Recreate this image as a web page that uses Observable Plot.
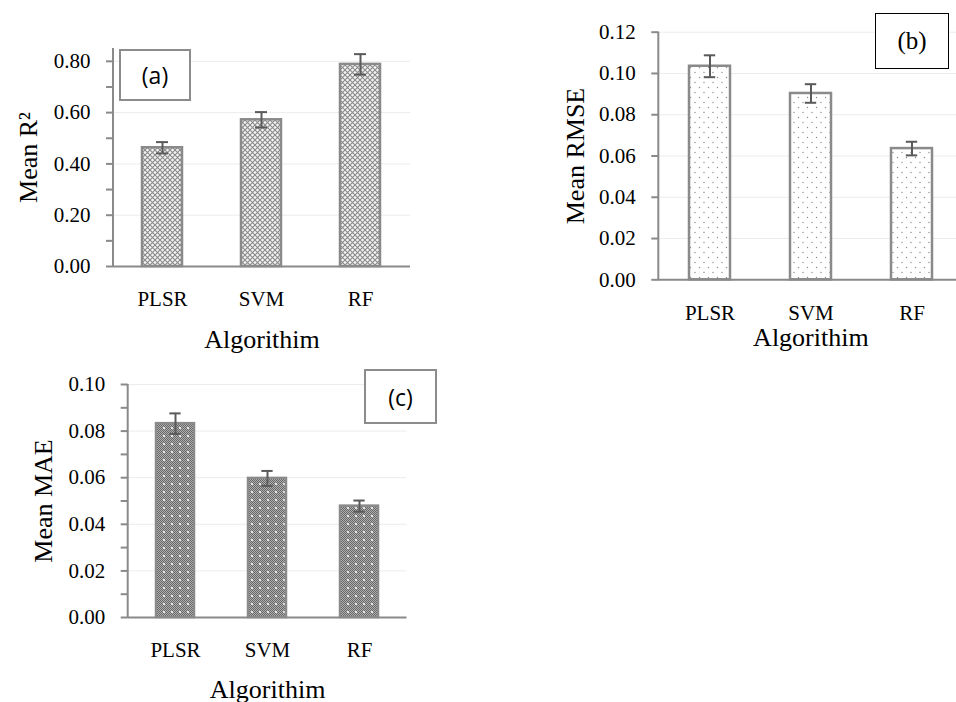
<!DOCTYPE html>
<html>
<head>
<meta charset="utf-8">
<script src="https://cdn.jsdelivr.net/npm/d3@7"></script>
<script src="https://cdn.jsdelivr.net/npm/@observablehq/plot@0.6"></script>
<style>
  html, body { margin: 0; padding: 0; background: #fff; }
  #wrap { position: relative; width: 956px; height: 702px; overflow: hidden; background: #fff; }
  .panel { position: absolute; }
  .tag { position: absolute; box-sizing: border-box; display: flex; align-items: center; justify-content: center; background: #fff; }
</style>
</head>
<body>
<div id="wrap"></div>
<script>
// ---- data ----
const algorithms = ["PLSR", "SVM", "RF"];

const r2Mean = [0.463, 0.572, 0.788];
const r2Err = [0.022, 0.030, 0.040];

const rmseMean = [0.1035, 0.0903, 0.0636];
const rmseErr = [0.0053, 0.0045, 0.0033];

const maeMean = [0.0832, 0.0597, 0.0478];
const maeErr = [0.0044, 0.0032, 0.0024];

const r2Ticks = [0, 0.1, 0.2, 0.3, 0.4, 0.5, 0.6, 0.7, 0.8];
const r2Labels = [0, 0.2, 0.4, 0.6, 0.8];
const rmseTicks = [0, 0.02, 0.04, 0.06, 0.08, 0.10, 0.12];
const rmseLabels = [0, 0.02, 0.04, 0.06, 0.08, 0.10, 0.12];
const maeTicks = [0, 0.01, 0.02, 0.03, 0.04, 0.05, 0.06, 0.07, 0.08, 0.09, 0.10];
const maeLabels = [0, 0.02, 0.04, 0.06, 0.08, 0.10];

const xTitle = "Algorithim";
const panelTags = ["(a)", "(b)", "(c)"];
const yTitles = ["Mean R²", "Mean RMSE", "Mean MAE"];

// ---- helpers ----
const wrap = document.getElementById("wrap");
const SERIF = "'Liberation Serif', 'Times New Roman', serif";
const SANS = "'Open Sans', 'Liberation Sans', sans-serif";

function addPattern(svg, id, kind) {
  const defs = d3.select(svg).insert("defs", ":first-child");
  if (kind === "cross") {
    const p = defs.append("pattern").attr("id", id).attr("patternUnits", "userSpaceOnUse")
      .attr("width", 5).attr("height", 5);
    p.append("rect").attr("width", 5).attr("height", 5).attr("fill", "#f4f4f4");
    p.append("path").attr("d", "M0,0L5,5M5,0L0,5").attr("stroke", "#8a8a8a").attr("stroke-width", 1.1);
  } else if (kind === "dots") {
    const p = defs.append("pattern").attr("id", id).attr("patternUnits", "userSpaceOnUse")
      .attr("width", 9).attr("height", 10);
    p.append("rect").attr("width", 9).attr("height", 10).attr("fill", "#ffffff");
    p.append("circle").attr("cx", 2).attr("cy", 2.5).attr("r", 0.7).attr("fill", "#8a8a8a");
    p.append("circle").attr("cx", 6.5).attr("cy", 7.5).attr("r", 0.7).attr("fill", "#8a8a8a");
  } else {
    const p = defs.append("pattern").attr("id", id).attr("patternUnits", "userSpaceOnUse")
      .attr("width", 8).attr("height", 8);
    p.append("rect").attr("width", 8).attr("height", 8).attr("fill", "#b0b0b0");
    for (let i = 0; i < 8; i++) for (let j = 0; j < 8; j++) {
      if ((i + j) % 2 === 0) p.append("rect").attr("x", i).attr("y", j).attr("width", 1).attr("height", 1).attr("fill", "#666666");
    }
    p.append("circle").attr("cx", 4).attr("cy", 4).attr("r", 1).attr("fill", "#ffffff");
  }
}

const charts = [];
function makePanel(cfg) {
  const rows = algorithms.map((a, i) => ({algo: a, mean: cfg.means[i], lo: cfg.means[i] - cfg.errs[i], hi: cfg.means[i] + cfg.errs[i]}));
  const capInset = (cfg.bandwidth - 12) / 2;
  const chart = Plot.plot({
    width: cfg.width,
    height: cfg.height,
    marginLeft: cfg.marginLeft,
    marginRight: cfg.marginRight,
    marginTop: cfg.marginTop,
    marginBottom: cfg.marginBottom,
    style: {fontFamily: SERIF, fontSize: "21px", color: "#000", background: "transparent", overflow: "visible"},
    x: {domain: algorithms, paddingInner: cfg.padInner, paddingOuter: cfg.padInner / 2},
    y: {domain: cfg.yDomain},
    marks: [
      Plot.gridY(cfg.labels, {stroke: "#ececec", strokeOpacity: 1, strokeWidth: 1}),
      Plot.barY(rows, {x: "algo", y: "mean", fill: `url(#${cfg.patternId})`, stroke: "#8a8a8a", strokeWidth: 2.5}),
      Plot.ruleX(rows, {x: "algo", y1: "lo", y2: "hi", stroke: "#5a5a5a", strokeWidth: 2}),
      Plot.tickY(rows, {x: "algo", y: "lo", stroke: "#5a5a5a", strokeWidth: 2, insetLeft: capInset, insetRight: capInset}),
      Plot.tickY(rows, {x: "algo", y: "hi", stroke: "#5a5a5a", strokeWidth: 2, insetLeft: capInset, insetRight: capInset}),
      Plot.ruleY([0], {stroke: "#8a8a8a", strokeWidth: 2}),
      // tick marks only (gray)
      Plot.axisY({ticks: cfg.ticks, tickSize: 7, stroke: "#8a8a8a", strokeWidth: 2, tickFormat: () => "", label: null}),
      // tick labels only (black)
      Plot.axisY({ticks: cfg.labels, tickSize: 0, tickPadding: 23, tickFormat: d => d.toFixed(2), label: null,
        fontSize: 21, fontFamily: SERIF}),
      Plot.axisX({tickSize: 0, tickPadding: 25, label: null, fontSize: 21, fontFamily: SERIF}),
      Plot.text([cfg.yTitle], {frameAnchor: "left", dx: -cfg.yTitleOffset, rotate: -90, lineAnchor: "top", textAnchor: "middle", fontSize: 26, fontFamily: SERIF}),
      Plot.text([xTitle], {frameAnchor: "bottom", dy: cfg.xTitleOffset, lineAnchor: "bottom", textAnchor: "middle", fontSize: 26, fontFamily: SERIF})
    ]
  });
  addPattern(chart, cfg.patternId, cfg.patternKind);
  // vertical y-axis line along the frame's left edge, from the y scale range
  const yr = chart.scale("y").range;
  d3.select(chart).append("line")
    .attr("x1", cfg.marginLeft).attr("x2", cfg.marginLeft)
    .attr("y1", Math.min(...yr)).attr("y2", Math.max(...yr) + 1)
    .attr("stroke", "#8a8a8a").attr("stroke-width", 2);
  chart.classList.add("panel");
  chart.style.left = cfg.left + "px";
  chart.style.top = cfg.top + "px";
  wrap.appendChild(chart);
  charts.push(chart);

  const tag = document.createElement("div");
  tag.className = "tag";
  tag.textContent = cfg.tag;
  Object.assign(tag.style, cfg.tagStyle);
  wrap.appendChild(tag);
}

// Panel (a)
makePanel({
  left: 0, top: 0, width: 430, height: 360,
  marginLeft: 113, marginRight: 20, marginTop: 48, marginBottom: 94,
  padInner: 0.595, bandwidth: 40,
  yDomain: [0, 0.85], ticks: r2Ticks, labels: r2Labels,
  means: r2Mean, errs: r2Err,
  yTitle: yTitles[0], yTitleOffset: 95, xTitleOffset: 81,
  patternId: "patA", patternKind: "cross",
  tag: panelTags[0],
  tagStyle: {left: "119px", top: "49px", width: "72px", height: "52px", border: "2px solid #8c8c8c", font: `23px ${SANS}`, color: "#000"}
});

// Panel (b)
makePanel({
  left: 540, top: 0, width: 430, height: 360,
  marginLeft: 118.3, marginRight: 7.5, marginTop: 31.7, marginBottom: 80.7,
  padInner: 0.59, bandwidth: 41.6,
  yDomain: [0, 0.12], ticks: rmseTicks, labels: rmseLabels,
  means: rmseMean, errs: rmseErr,
  yTitle: yTitles[1], yTitleOffset: 93, xTitleOffset: 66,
  patternId: "patB", patternKind: "dots",
  tag: panelTags[1],
  tagStyle: {left: "875px", top: "13px", width: "74px", height: "56px", border: "1.5px solid #000", font: `25px ${SERIF}`, color: "#000"}
});

// Panel (c)
makePanel({
  left: 0, top: 360, width: 430, height: 342,
  marginLeft: 127.7, marginRight: 23.5, marginTop: 24, marginBottom: 85,
  padInner: 0.583, bandwidth: 38.7,
  yDomain: [0, 0.10], ticks: maeTicks, labels: maeLabels,
  means: maeMean, errs: maeErr,
  yTitle: yTitles[2], yTitleOffset: 95, xTitleOffset: 80,
  patternId: "patC", patternKind: "checker",
  tag: panelTags[2],
  tagStyle: {left: "364px", top: "369px", width: "73px", height: "55px", border: "2px solid #8c8c8c", font: `23px ${SANS}`, color: "#000"}
});

// pin the serif face on every chart text and force a layout pass so it is applied before capture
charts.forEach(c => {
  c.querySelectorAll("text").forEach(t => {
    t.style.fontFamily = SERIF;
    getComputedStyle(t).fontFamily;
    t.getBoundingClientRect();
  });
});
</script>
</body>
</html>
